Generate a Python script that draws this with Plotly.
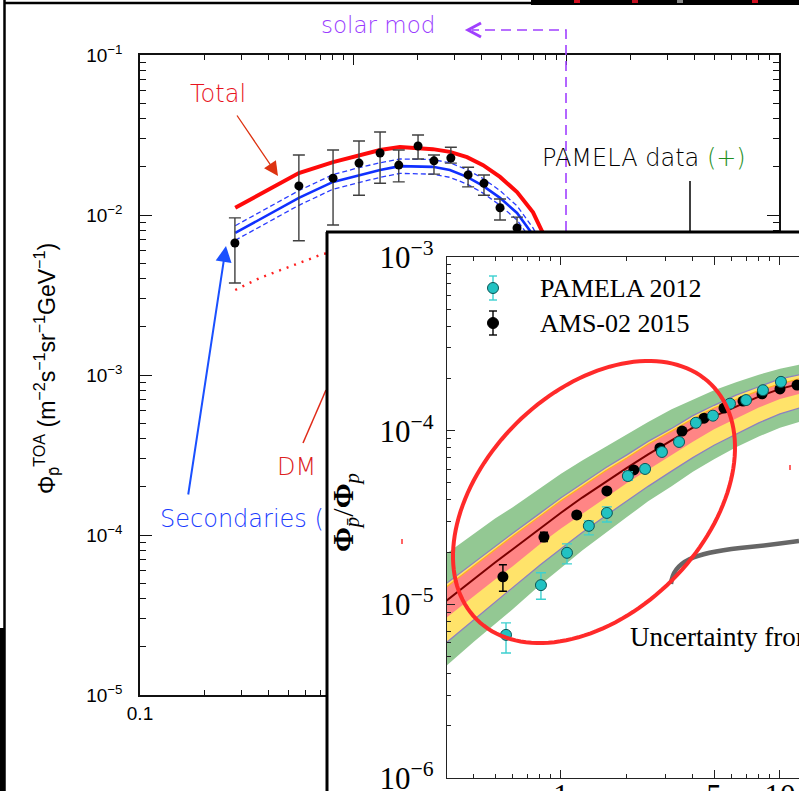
import numpy as np
import plotly.graph_objects as go

W, H = 799, 791


def fx(x):
    return x / W


def fy(y):
    return 1 - y / H


def pt(x, y):
    return f"{fx(x):.5f},{fy(y):.5f}"


# ---------------- Panel A : antiproton flux at top of atmosphere ----------------
flux_E = [0.279, 0.557, 0.806, 1.067, 1.34, 1.64, 2.02, 2.40, 2.88, 3.47, 4.12, 4.90, 5.89]
flux_val = [6.68e-3, 1.52e-2, 1.70e-2, 2.11e-2, 2.44e-2, 2.05e-2, 2.70e-2, 2.18e-2, 2.27e-2, 1.78e-2, 1.58e-2, 1.11e-2, 8.3e-3]
flux_hi = [9.6e-3, 2.37e-2, 2.55e-2, 2.90e-2, 3.30e-2, 2.55e-2, 3.16e-2, 2.37e-2, 2.65e-2, 1.99e-2, 1.78e-2, 1.26e-2, 9.7e-3]
flux_lo = [3.76e-3, 6.9e-3, 8.66e-3, 1.33e-2, 1.58e-2, 1.61e-2, 2.24e-2, 1.80e-2, 2.11e-2, 1.50e-2, 1.33e-2, 9.3e-3, 7.0e-3]

curve_E = [0.28, 0.557, 0.806, 1.07, 1.34, 1.66, 2.37, 2.85, 3.43, 4.08, 4.90, 5.89, 7.0, 7.71, 10, 20, 50, 100]
total_flux = [1.11e-2, 1.83e-2, 2.14e-2, 2.37e-2, 2.55e-2, 2.66e-2, 2.58e-2, 2.48e-2, 2.30e-2, 2.05e-2, 1.73e-2,
              1.39e-2, 1.04e-2, 7.94e-3, 4.5e-3, 8e-4, 6e-5, 5e-6]
sec_flux = [7.72e-3, 1.28e-2, 1.61e-2, 1.78e-2, 1.91e-2, 2.02e-2, 2.00e-2, 1.91e-2, 1.73e-2, 1.52e-2, 1.28e-2,
            1.03e-2, 7.5e-3, 5.9e-3, 3.2e-3, 6e-4, 5e-5, 4e-6]
sec_hi = [8.57e-3, 1.42e-2, 1.79e-2, 1.98e-2, 2.12e-2, 2.24e-2, 2.22e-2, 2.12e-2, 1.92e-2, 1.69e-2, 1.42e-2,
          1.14e-2, 8.3e-3, 6.5e-3, 3.6e-3, 6.7e-4, 5.6e-5, 4.4e-6]
sec_lo = [6.95e-3, 1.15e-2, 1.45e-2, 1.60e-2, 1.72e-2, 1.82e-2, 1.80e-2, 1.72e-2, 1.56e-2, 1.37e-2, 1.15e-2,
          9.3e-3, 6.75e-3, 5.3e-3, 2.9e-3, 5.4e-4, 4.5e-5, 3.6e-6]

dm_E = [0.28, 0.365, 0.557, 0.723, 1.07, 1.66, 2.37, 3.43, 4.9, 7.0, 10, 20, 50, 100]
dm_flux = [3.4e-3, 4.04e-3, 5.0e-3, 5.71e-3, 6.2e-3, 6.4e-3, 6.0e-3, 5.4e-3, 4.6e-3, 3.0e-3, 1.3e-3, 2e-4, 1e-5, 8e-7]

flux_ytick_vals = [1e-5, 1e-4, 1e-3, 1e-2, 1e-1]
flux_ytick_text = ["10<sup>−5</sup>", "10<sup>−4</sup>", "10<sup>−3</sup>", "10<sup>−2</sup>", "10<sup>−1</sup>"]
flux_xtick_vals = [0.1, 1, 10, 100]
flux_xtick_text = ["0.1", "1", "10", "100"]

# ---------------- Panel B : antiproton / proton ratio ----------------
ams_E = [0.543, 0.836, 1.18, 1.62, 2.15, 2.83, 3.57, 4.50, 5.55, 6.78, 8.28, 10.0, 11.96]
ams_val = [1.44e-5, 2.44e-5, 3.27e-5, 4.50e-5, 5.94e-5, 7.95e-5, 9.95e-5, 1.18e-4, 1.35e-4, 1.48e-4, 1.63e-4, 1.74e-4, 1.83e-4]
ams_hi = [1.69e-5, 2.60e-5, 3.40e-5, 4.65e-5, 6.12e-5, 8.15e-5, 1.02e-4, 1.21e-4, 1.38e-4, 1.51e-4, 1.66e-4, 1.77e-4, 1.86e-4]
ams_lo = [1.19e-5, 2.30e-5, 3.14e-5, 4.35e-5, 5.76e-5, 7.75e-5, 9.7e-5, 1.15e-4, 1.32e-4, 1.45e-4, 1.60e-4, 1.71e-4, 1.80e-4]

pam_E = [0.561, 0.81, 1.065, 1.34, 1.62, 2.02, 2.42, 2.89, 3.46, 4.13, 4.94, 5.91, 7.0, 8.36, 10.1]
pam_val = [6.67e-6, 1.29e-5, 1.98e-5, 2.83e-5, 3.36e-5, 5.48e-5, 6.02e-5, 7.54e-5, 8.61e-5, 1.11e-4, 1.22e-4,
           1.43e-4, 1.50e-4, 1.71e-4, 1.91e-4]
pam_hi = [7.82e-6, 1.52e-5, 2.23e-5, 3.02e-5, 3.64e-5, 5.80e-5, 6.30e-5, 7.85e-5, 8.95e-5, 1.15e-4, 1.26e-4,
          1.48e-4, 1.55e-4, 1.77e-4, 1.98e-4]
pam_lo = [5.25e-6, 1.07e-5, 1.71e-5, 2.51e-5, 2.98e-5, 5.18e-5, 5.75e-5, 7.25e-5, 8.28e-5, 1.07e-4, 1.18e-4,
          1.38e-4, 1.45e-4, 1.65e-4, 1.84e-4]

band_E = [0.30, 0.4, 0.5, 0.6, 0.8, 1.0, 1.25, 1.6, 2.0, 2.5, 3.2, 4.0, 5.0, 6.3, 8.0, 10.0, 12.5]
ratio_central = [1.05e-5, 1.40e-5, 1.74e-5, 2.07e-5, 2.74e-5, 3.37e-5, 4.12e-5, 5.08e-5, 6.10e-5, 7.31e-5, 8.82e-5,
                 1.04e-4, 1.21e-4, 1.38e-4, 1.57e-4, 1.74e-4, 1.87e-4]
green_hi = [1.96e-5, 2.54e-5, 3.12e-5, 3.61e-5, 4.66e-5, 5.65e-5, 6.73e-5, 8.08e-5, 9.57e-5, 1.12e-4, 1.33e-4,
            1.51e-4, 1.71e-4, 1.90e-4, 2.10e-4, 2.27e-4, 2.41e-4]
yellow_hi = [1.32e-5, 1.74e-5, 2.15e-5, 2.56e-5, 3.34e-5, 4.11e-5, 4.96e-5, 6.12e-5, 7.25e-5, 8.68e-5, 1.03e-4,
             1.22e-4, 1.40e-4, 1.60e-4, 1.79e-4, 1.99e-4, 2.11e-4]
red_hi = [1.26e-5, 1.67e-5, 2.07e-5, 2.46e-5, 3.21e-5, 3.95e-5, 4.77e-5, 5.88e-5, 6.97e-5, 8.35e-5, 9.94e-5,
          1.17e-4, 1.35e-4, 1.51e-4, 1.70e-4, 1.86e-4, 2.00e-4]
red_lo = [8.38e-6, 1.12e-5, 1.39e-5, 1.65e-5, 2.22e-5, 2.73e-5, 3.33e-5, 4.11e-5, 5.00e-5, 5.99e-5, 7.23e-5,
          8.64e-5, 1.02e-4, 1.18e-4, 1.36e-4, 1.52e-4, 1.64e-4]
yellow_lo = [6.02e-6, 8.13e-6, 1.02e-5, 1.23e-5, 1.68e-5, 2.09e-5, 2.59e-5, 3.24e-5, 3.94e-5, 4.78e-5, 5.85e-5,
             6.99e-5, 8.24e-5, 9.52e-5, 1.11e-4, 1.25e-4, 1.36e-4]
green_lo = [4.43e-6, 6.08e-6, 7.74e-6, 9.34e-6, 1.29e-5, 1.62e-5, 2.04e-5, 2.59e-5, 3.18e-5, 3.92e-5, 4.79e-5,
            5.80e-5, 6.85e-5, 8.02e-5, 9.25e-5, 1.04e-4, 1.13e-4]

ratio_ytick_vals = [1e-6, 1e-5, 1e-4, 1e-3]
ratio_ytick_text = ["10<sup>−6</sup>", "10<sup>−5</sup>", "10<sup>−4</sup>", "10<sup>−3</sup>"]
ratio_xtick_vals = [1, 5, 10]
ratio_xtick_text = ["1", "5", "10"]

# ---------------- styles ----------------
SANS = "Liberation Sans, Arial, sans-serif"
SERIF = "Liberation Serif, Times New Roman, serif"
HAND = "DejaVu Sans, sans-serif"

fig = go.Figure()

# ---- panel A traces
fig.add_trace(go.Scatter(x=dm_E, y=dm_flux, mode="lines", xaxis="x", yaxis="y",
                         line=dict(color="#ff2020", width=2.4, dash="2px,6px")))
fig.add_trace(go.Scatter(x=curve_E, y=sec_hi, mode="lines", xaxis="x", yaxis="y",
                         line=dict(color="#2a3cff", width=1.3, dash="5px,3px")))
fig.add_trace(go.Scatter(x=curve_E, y=sec_lo, mode="lines", xaxis="x", yaxis="y",
                         line=dict(color="#2a3cff", width=1.3, dash="5px,3px")))
fig.add_trace(go.Scatter(x=curve_E, y=sec_flux, mode="lines", xaxis="x", yaxis="y",
                         line=dict(color="#1030ff", width=2.6)))
fig.add_trace(go.Scatter(x=curve_E, y=total_flux, mode="lines", xaxis="x", yaxis="y",
                         line=dict(color="#ff0a0a", width=4)))
fig.add_trace(go.Scatter(
    x=flux_E, y=flux_val, mode="markers", xaxis="x", yaxis="y",
    marker=dict(color="black", size=9),
    error_y=dict(type="data", symmetric=False,
                 array=[h - v for h, v in zip(flux_hi, flux_val)],
                 arrayminus=[v - l for v, l in zip(flux_val, flux_lo)],
                 color="#404040", thickness=1.4, width=6)))

# ---- white cover panel (the pasted inset box)
fig.add_trace(go.Scatter(x=[0.5], y=[0.5], mode="markers", xaxis="x2", yaxis="y2",
                         marker=dict(opacity=0), hoverinfo="skip"))


# ---- panel B traces
def band(lo, hi, color):
    return go.Scatter(x=band_E + band_E[::-1], y=hi + lo[::-1], mode="lines", fill="toself",
                      fillcolor=color, line=dict(width=0), xaxis="x3", yaxis="y3", hoverinfo="skip")


fig.add_trace(band(green_lo, green_hi, "#93c893"))
fig.add_trace(band(yellow_lo, yellow_hi, "#ffe36a"))
fig.add_trace(band(red_lo, red_hi, "#ff8585"))
for arr in (yellow_hi, yellow_lo):
    fig.add_trace(go.Scatter(x=band_E, y=arr, mode="lines", xaxis="x3", yaxis="y3",
                             line=dict(color="#8c80c0", width=1.3)))
fig.add_trace(go.Scatter(x=band_E, y=red_hi, mode="lines", xaxis="x3", yaxis="y3",
                         line=dict(color="#ffb020", width=1.2)))
fig.add_trace(go.Scatter(x=band_E, y=ratio_central, mode="lines", xaxis="x3", yaxis="y3",
                         line=dict(color="#7a0000", width=2)))
fig.add_trace(go.Scatter(
    x=ams_E, y=ams_val, mode="markers", xaxis="x3", yaxis="y3", name="AMS-02 2015",
    marker=dict(color="black", size=11),
    error_y=dict(type="data", symmetric=False,
                 array=[h - v for h, v in zip(ams_hi, ams_val)],
                 arrayminus=[v - l for v, l in zip(ams_val, ams_lo)],
                 color="black", thickness=1.4, width=4)))
fig.add_trace(go.Scatter(
    x=pam_E, y=pam_val, mode="markers", xaxis="x3", yaxis="y3", name="PAMELA 2012",
    marker=dict(color="#22c2c2", size=11, line=dict(color="#0b5555", width=1)),
    error_y=dict(type="data", symmetric=False,
                 array=[h - v for h, v in zip(pam_hi, pam_val)],
                 arrayminus=[v - l for v, l in zip(pam_val, pam_lo)],
                 color="#3cd0d0", thickness=1.4, width=5)))


# ---------------- axes ----------------
def minor_vals(decades, skip=()):
    return [k * 10.0 ** e for e in decades for k in range(2, 10) if (k, e) not in skip]


axA = dict(type="log", showline=True, linecolor="#111", linewidth=1.5, mirror="ticks", automargin=False,
           ticks="inside", tickcolor="#111", tickwidth=1.2, showgrid=False, zeroline=False,
           tickfont=dict(family=SANS, size=19, color="black"), ticklabeloverflow="allow")
fig.update_layout(
    xaxis=dict(axA, domain=[fx(140), fx(779)], range=[-1, 2], anchor="y", ticklen=10,
               tickmode="array", tickvals=flux_xtick_vals, ticktext=flux_xtick_text,
               minor=dict(tickmode="array", tickvals=minor_vals((-1, 0, 1)), ticks="inside", ticklen=5,
                          tickcolor="#111", showgrid=False)),
    yaxis=dict(axA, domain=[fy(695), fy(55)], range=[-5, -1], anchor="x", ticklen=12,
               tickmode="array", tickvals=flux_ytick_vals, ticktext=flux_ytick_text, ticklabelstandoff=12,
               minor=dict(tickmode="array", tickvals=minor_vals(range(-5, -1)), ticks="inside", ticklen=6,
                          tickcolor="#111", showgrid=False)),
    xaxis2=dict(domain=[fx(327), 1], range=[0, 1], visible=False, anchor="y2", automargin=False),
    yaxis2=dict(domain=[0, fy(232)], range=[0, 1], visible=False, anchor="x2", automargin=False),
    xaxis3=dict(type="log", domain=[fx(447), 1], range=[-0.5205, 1.0868], anchor="y3", automargin=False,
                showline=True, linecolor="#222", linewidth=1.2, mirror="ticks", ticks="inside", ticklen=8,
                tickcolor="#222", showgrid=False, zeroline=False, ticklabeloverflow="allow",
                ticklabelstandoff=-10,
                tickmode="array", tickvals=ratio_xtick_vals, ticktext=ratio_xtick_text,
                tickfont=dict(family=SERIF, size=31, color="black"),
                minor=dict(tickmode="array", tickvals=minor_vals((-1, 0, 1), skip={(5, 0)}), ticks="inside",
                           ticklen=4, tickcolor="#222", showgrid=False)),
    yaxis3=dict(type="log", domain=[fy(778), fy(257)], range=[-6, -3], anchor="x3", automargin=False,
                showline=True, linecolor="#222", linewidth=1.2, mirror=False, ticks="inside", ticklen=8,
                tickcolor="#222", showgrid=False, zeroline=False, ticklabeloverflow="allow",
                tickmode="array", tickvals=ratio_ytick_vals, ticktext=ratio_ytick_text, ticklabelstandoff=6,
                tickfont=dict(family=SERIF, size=31, color="black"),
                minor=dict(tickmode="array", tickvals=minor_vals(range(-6, -3)), ticks="inside", ticklen=4,
                           tickcolor="#222", showgrid=False)),
)

# ---------------- shapes ----------------
shapes = []


def line(x0, y0, x1, y1, color, width, dash=None):
    d = dict(type="line", xref="paper", yref="paper", x0=fx(x0), y0=fy(y0), x1=fx(x1), y1=fy(y1),
             line=dict(color=color, width=width), layer="above")
    if dash:
        d["line"]["dash"] = dash
    return d


def path(p, color, width, dash=None, fill=None):
    d = dict(type="path", xref="paper", yref="paper", path=p, line=dict(color=color, width=width), layer="above")
    if dash:
        d["line"]["dash"] = dash
    if fill:
        d["fillcolor"] = fill
    return d


def rect(x0, y0, x1, y1, fill, lc=None, lw=0):
    return dict(type="rect", xref="paper", yref="paper", x0=fx(x0), y0=fy(y0), x1=fx(x1), y1=fy(y1),
                fillcolor=fill, line=dict(color=lc or fill, width=lw), layer="above")


def circ(cx, cy, r, fill, lc, lw=1):
    return dict(type="circle", xref="paper", yref="paper", x0=fx(cx - r), y0=fy(cy - r), x1=fx(cx + r),
                y1=fy(cy + r), fillcolor=fill, line=dict(color=lc, width=lw), layer="above")


# collage frame fragments
shapes.append(line(4.5, 0, 4.5, 791, "black", 2.5))
shapes.append(rect(0, 628, 5, 791, "black"))
shapes.append(line(4, 3, 532, 3, "black", 2.5))
shapes.append(rect(531, 0, 799, 5, "black"))
for xr, col in ((574, "#d01020"), (632, "#c01020"), (677, "#888"), (752, "#d01020")):
    shapes.append(rect(xr, 0, xr + 6, 3, col))

# solar modulation dashed pointer
shapes.append(path("M " + pt(566, 231) + " L " + pt(566, 30) + " L " + pt(472, 30), "#a040ff", 1.6, dash="10px,6px"))
shapes.append(path("M " + pt(481, 23) + " L " + pt(468, 30) + " L " + pt(481, 37), "#a040ff", 3))

# PAMELA data pointer
shapes.append(line(690, 181, 690, 231, "black", 1.5))
# DM pointer
shapes.append(line(303, 443, 326, 390, "#e02a18", 1.5))

# inset box border
shapes.append(line(327, 232, 327, 791, "black", 3))
shapes.append(line(326, 232, 799, 232, "black", 3))

# grey pointer and red ellipse
shapes.append(path("M " + pt(671, 584) + " C " + pt(673, 561) + " " + pt(695, 553) + " " + pt(740, 548)
                   + " Q " + pt(770, 545) + " " + pt(799, 541), "#666666", 4.5))
t = np.linspace(0, 2 * np.pi, 145)
cx, cy, a, b = 594, 502, 166, 110.5
s2 = np.sqrt(0.5)
ex = cx + a * np.cos(t) * s2 + b * np.sin(t) * s2
ey = cy - a * np.cos(t) * s2 + b * np.sin(t) * s2
shapes.append(path("M " + " L ".join(pt(x, y) for x, y in zip(ex, ey)) + " Z", "#ff2a2a", 4))

# stray red marks
shapes.append(line(402, 539, 402, 544, "#ff3030", 1.5))
shapes.append(line(790, 465, 790, 470, "#ff3030", 1.5))

# inset legend symbols
for yy, fill, lc, ec in ((288, "#22c2c2", "#0b5555", "#3cd0d0"), (323, "black", "black", "black")):
    shapes.append(line(493, yy - 12, 493, yy + 12, ec, 1.4))
    shapes.append(line(489, yy - 12, 497, yy - 12, ec, 1.4))
    shapes.append(line(489, yy + 12, 497, yy + 12, ec, 1.4))
    shapes.append(circ(493, yy, 5.5, fill, lc, 1))

# ---------------- annotations ----------------
ann = []


def text(x, y, s, size, color, family, xanchor="center", angle=0, weight=None):
    f = dict(family=family, size=size, color=color)
    if weight:
        f["weight"] = weight
    return dict(xref="paper", yref="paper", x=fx(x), y=fy(y), text=s, showarrow=False, xanchor=xanchor,
                yanchor="middle", textangle=angle, font=f)


ann.append(text(378, 25, "solar mod", 23, "#9a3cff", HAND, weight=300))
ann.append(text(218, 94, "Total", 24, "#e8141e", HAND, weight=300))
ann.append(dict(xref="paper", yref="paper", x=fx(278), y=fy(176), text="", showarrow=True,
                ax=236 - 278, ay=114 - 176, arrowcolor="#dd3311", arrowwidth=1.3, arrowhead=2, arrowsize=2.2))
ann.append(dict(xref="paper", yref="paper", x=fx(226), y=fy(246), text="", showarrow=True,
                ax=188 - 226, ay=496 - 246, arrowcolor="#1a50ff", arrowwidth=2, arrowhead=2, arrowsize=1.6))
ann.append(text(158, 519, "Secondaries (", 24, "#1a3cff", HAND, xanchor="left", weight=300))
ann.append(text(296, 467, "DM", 24, "#dd2020", HAND, weight=300))
ann.append(text(540, 158, "PAMELA data <span style='color:#1f8f1f'>(+)</span>", 24, "black", HAND,
                xanchor="left", weight=300))
ann.append(text(46, 369, "Φ<sub>p̄</sub><sup>TOA</sup> (m<sup>−2</sup>s<sup>−1</sup>sr<sup>−1</sup>GeV<sup>−1</sup>)",
                23, "black", SANS, angle=-90))
ann.append(text(345, 513, "<b>Φ</b><sub><i>p̄</i></sub>/<b>Φ</b><sub><i>p</i></sub>", 30, "black", SERIF, angle=-90))
ann.append(text(538, 288, "PAMELA 2012", 26, "black", SERIF, xanchor="left"))
ann.append(text(538, 323, "AMS-02 2015", 26, "black", SERIF, xanchor="left"))
ann.append(text(628, 637, "Uncertainty from", 27, "black", SERIF, xanchor="left"))

fig.update_layout(template="none", width=W, height=H, margin=dict(l=0, r=0, t=0, b=0, pad=0),
                  paper_bgcolor="white", plot_bgcolor="white", showlegend=False, shapes=shapes, annotations=ann)

fig.write_html("out.html")
